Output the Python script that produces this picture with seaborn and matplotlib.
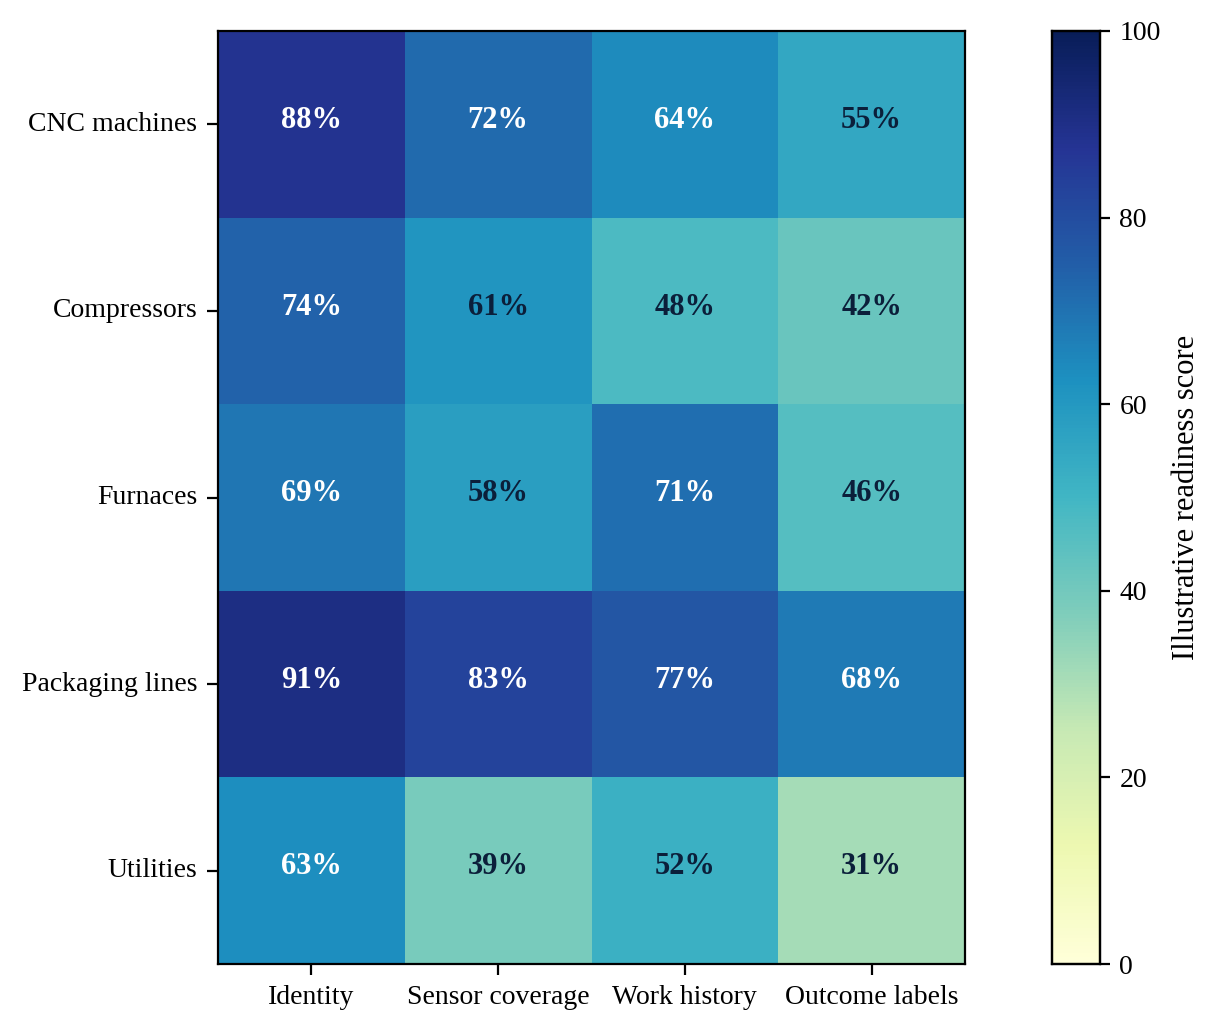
import matplotlib
matplotlib.use("Agg")
import matplotlib.pyplot as plt
import seaborn as sns
import numpy as np
import pandas as pd

rows = ["CNC machines", "Compressors", "Furnaces", "Packaging lines", "Utilities"]
cols = ["Identity", "Sensor coverage", "Work history", "Outcome labels"]
identity = [88, 74, 69, 91, 63]
sensor = [72, 61, 58, 83, 39]
work = [64, 48, 71, 77, 52]
outcome = [55, 42, 46, 68, 31]

df = pd.DataFrame({"Identity": identity, "Sensor coverage": sensor,
                   "Work history": work, "Outcome labels": outcome}, index=rows)[cols]

plt.rcParams['font.family'] = ['Liberation Serif', 'DejaVu Serif']
fig = plt.figure(figsize=(6.12, 5.165), dpi=200)
ax = fig.add_axes([218/1224, 1-964/1033, (965-218)/1224, (964-31)/1033])
cax = fig.add_axes([1052/1224, 1-964/1033, (1100-1052)/1224, (964-31)/1033])
sns.heatmap(df, ax=ax, cbar_ax=cax, cmap="YlGnBu", vmin=0, vmax=100,
            cbar_kws={"label": "Illustrative readiness score"})
for i, r in enumerate(rows):
    for j, c in enumerate(cols):
        v = df.loc[r, c]
        ax.text(j + 0.5, i + 0.5 - 0.02, f"{v}%", ha="center", va="center",
                fontsize=11, fontweight="bold",
                color="white" if v >= 62 else "#0b1f3a")
ax.set_yticklabels(rows, rotation=0, fontsize=10)
ax.set_xticklabels(cols, rotation=0, fontsize=10)
ax.tick_params(length=4)
for s in ax.spines.values():
    s.set_visible(True); s.set_linewidth(0.8)
cax.tick_params(labelsize=10)
cax.yaxis.label.set_size(11)
for s in cax.spines.values():
    s.set_visible(True); s.set_linewidth(0.8)
fig.savefig("out.png", dpi=200)
